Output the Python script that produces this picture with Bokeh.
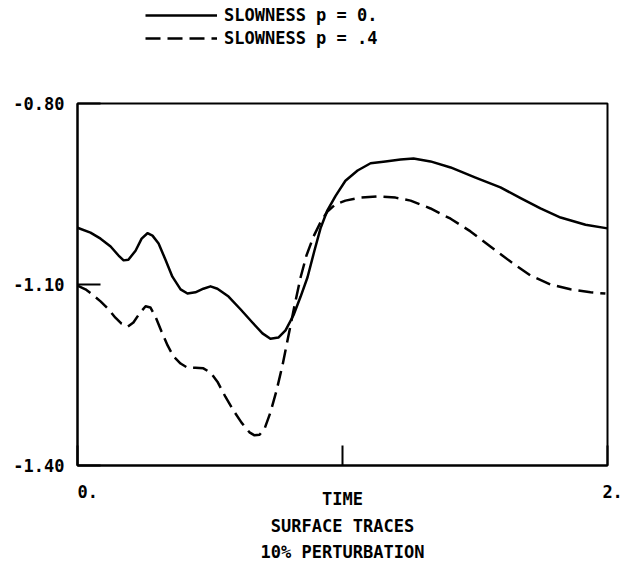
from bokeh.plotting import figure
from bokeh.layouts import column
from bokeh.core.properties import value
from bokeh.models import Range1d, FixedTicker, Legend, LegendItem, PrintfTickFormatter
from bokeh.embed import file_html
from bokeh.resources import INLINE

# ---- data ----
time_p0 = [0.000, 0.049, 0.087, 0.125, 0.155, 0.174, 0.192, 0.219, 0.242, 0.264,
           0.283, 0.306, 0.332, 0.358, 0.389, 0.415, 0.445, 0.475, 0.502, 0.528,
           0.570, 0.615, 0.660, 0.698, 0.728, 0.758, 0.785, 0.815, 0.842, 0.868,
           0.894, 0.917, 0.943, 0.974, 1.011, 1.057, 1.106, 1.162, 1.219, 1.268,
           1.332, 1.408, 1.502, 1.596, 1.672, 1.747, 1.823, 1.917, 2.000]
slow_p0 = [-1.006, -1.014, -1.024, -1.037, -1.052, -1.060, -1.059, -1.044, -1.024, -1.015,
           -1.019, -1.032, -1.059, -1.087, -1.108, -1.115, -1.113, -1.107, -1.103, -1.107,
           -1.120, -1.141, -1.163, -1.181, -1.190, -1.188, -1.176, -1.151, -1.120, -1.088,
           -1.044, -1.007, -0.977, -0.953, -0.928, -0.911, -0.899, -0.896, -0.893, -0.891,
           -0.896, -0.906, -0.923, -0.939, -0.957, -0.974, -0.989, -1.001, -1.007]

time_p4 = [0.000, 0.030, 0.060, 0.087, 0.117, 0.143, 0.166, 0.189, 0.211, 0.234,
           0.257, 0.275, 0.294, 0.317, 0.340, 0.362, 0.389, 0.415, 0.445, 0.475,
           0.502, 0.528, 0.558, 0.589, 0.619, 0.649, 0.668, 0.687, 0.706, 0.728,
           0.751, 0.774, 0.796, 0.819, 0.842, 0.864, 0.891, 0.917, 0.943, 0.974,
           1.011, 1.068, 1.132, 1.200, 1.257, 1.332, 1.408, 1.483, 1.558, 1.634,
           1.709, 1.785, 1.860, 1.936, 1.992]
slow_p4 = [-1.102, -1.108, -1.118, -1.128, -1.141, -1.155, -1.165, -1.170, -1.163, -1.148,
           -1.136, -1.138, -1.153, -1.178, -1.201, -1.219, -1.231, -1.238, -1.238, -1.239,
           -1.246, -1.261, -1.286, -1.309, -1.329, -1.345, -1.350, -1.349, -1.339, -1.312,
           -1.276, -1.233, -1.185, -1.135, -1.088, -1.052, -1.020, -0.997, -0.979, -0.967,
           -0.961, -0.956, -0.954, -0.956, -0.961, -0.974, -0.991, -1.012, -1.037, -1.062,
           -1.085, -1.100, -1.108, -1.113, -1.115]

x_ticks = [0, 1, 2]
x_tick_labels = ["\u00a0\u00a00.", "", "\u00a02."]
y_ticks = [-1.4, -1.1, -0.8]
legend_labels = ["SLOWNESS p = 0.", "SLOWNESS p = .4"]
x_title = "TIME"
caption_lines = ["SURFACE TRACES", "10% PERTURBATION"]

FONT = "DejaVu Sans Mono"
FS = "17px"
DASH = "15 7"
NAN = float("nan")

# ---- legend strip above the plot ----
leg = figure(width=632, height=50, x_range=Range1d(0, 1), y_range=Range1d(0, 1),
             x_axis_type=None, y_axis_type=None,
             output_backend="svg", toolbar_location=None,
             min_border_left=0, min_border_right=0, min_border_top=0, min_border_bottom=0)
leg.outline_line_color = None
leg.background_fill_color = "white"
leg.border_fill_color = "white"
d0 = leg.line(x=[NAN], y=[NAN], line_color="black", line_width=2.5)
d4 = leg.line(x=[NAN], y=[NAN], line_color="black", line_width=2.5, line_dash=DASH)
legend = Legend(items=[LegendItem(label=legend_labels[0], renderers=[d0]),
                       LegendItem(label=legend_labels[1], renderers=[d4])],
                location=(68, 2), orientation="vertical",
                glyph_width=72, glyph_height=20, label_height=20, spacing=3,
                padding=0, margin=0, label_standoff=7,
                border_line_color=None, background_fill_alpha=0,
                label_text_font=FONT, label_text_font_size=FS,
                label_text_font_style="bold", label_text_color="black")
leg.add_layout(legend, "center")

# ---- main plot ----
p = figure(width=632, height=462, x_range=Range1d(0, 2), y_range=Range1d(-1.4, -0.8),
           output_backend="svg", toolbar_location=None,
           min_border_left=77, min_border_right=25, min_border_top=53, min_border_bottom=47)
p.grid.visible = False
p.background_fill_color = "white"
p.border_fill_color = "white"
p.outline_line_color = "black"
p.outline_line_width = 2

for ax in (p.xaxis[0], p.yaxis[0]):
    ax.axis_line_width = 2
    ax.axis_line_color = "black"
    ax.major_tick_line_width = 2
    ax.major_tick_line_color = "black"
    ax.major_tick_out = 0
    ax.minor_tick_line_color = None
    ax.major_label_text_font = FONT
    ax.major_label_text_font_size = FS
    ax.major_label_text_font_style = "bold"
    ax.major_label_text_color = "black"

p.xaxis.ticker = FixedTicker(ticks=x_ticks)
p.xaxis.major_label_overrides = {t: l for t, l in zip(x_ticks, x_tick_labels)}
p.xaxis.major_tick_in = 20
p.xaxis.major_label_standoff = 16
p.xaxis.axis_label = x_title
p.xaxis.axis_label_standoff = -16
p.xaxis.axis_label_text_font = FONT
p.xaxis.axis_label_text_font_size = FS
p.xaxis.axis_label_text_font_style = "bold"
p.xaxis.axis_label_text_color = "black"

p.yaxis.ticker = FixedTicker(ticks=y_ticks)
p.yaxis.formatter = PrintfTickFormatter(format="%.2f")
p.yaxis.major_tick_in = 23
p.yaxis.major_label_standoff = 13

p.line(time_p0, slow_p0, line_color="black", line_width=2.5, line_join="round")
p.line(time_p4, slow_p4, line_color="black", line_width=2.5, line_join="round",
       line_dash=DASH)

# ---- caption strip below the plot ----
cap = figure(width=632, height=54, x_range=Range1d(0, 2), y_range=Range1d(54, 0),
             x_axis_type=None, y_axis_type=None,
             output_backend="svg", toolbar_location=None,
             min_border_left=0, min_border_right=0, min_border_top=0, min_border_bottom=0)
cap.outline_line_color = None
cap.background_fill_color = "white"
cap.border_fill_color = "white"
cap.text(x=[1, 1], y=[13, 39], text=caption_lines, text_align="center",
         text_baseline="middle", text_font=value(FONT), text_font_size=value(FS),
         text_font_style="bold", text_color="black")

layout = column(leg, p, cap, spacing=0)
open("out.html", "w").write(file_html(layout, INLINE))
